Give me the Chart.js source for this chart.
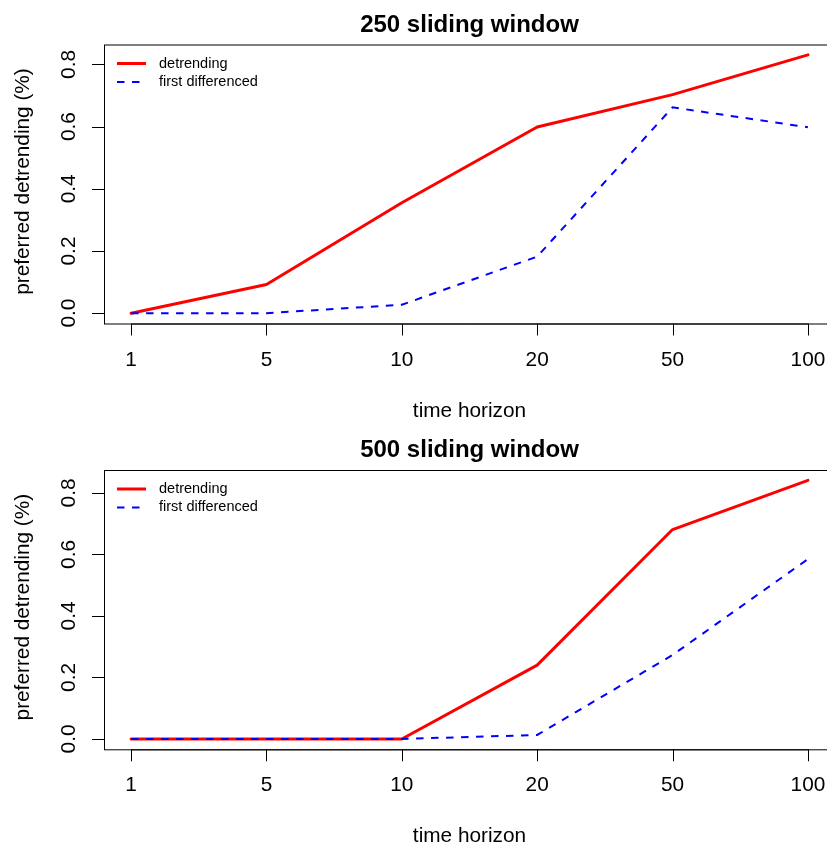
<!DOCTYPE html>
<html>
<head>
<meta charset="utf-8">
<script src="https://cdn.jsdelivr.net/npm/chart.js@4"></script>
<style>
  html, body { margin: 0; padding: 0; background: #fff; overflow: hidden; }
  #wrap { position: relative; width: 827px; height: 846px; overflow: hidden; }
  canvas { position: absolute; left: 0; }
</style>
</head>
<body>
<div id="wrap">
  <canvas id="top" width="860" height="423" style="top:0"></canvas>
  <canvas id="bottom" width="860" height="423" style="top:423px"></canvas>
</div>
<script>
// time horizons on the x axis (evenly spaced, as categories)
const horizons = ['1', '5', '10', '20', '50', '100'];
const yTicks = [0, 0.2, 0.4, 0.6, 0.8];

// 250 sliding window
const detrend250 = [0, 0.092, 0.355, 0.599, 0.703, 0.831];
const firstDiff250 = [0, 0, 0.027, 0.182, 0.662, 0.598];

// 500 sliding window
const detrend500 = [0, 0, 0, 0.240, 0.681, 0.841];
const firstDiff500 = [0, 0, 0, 0.013, 0.273, 0.585];

const FONT = "'Liberation Sans', Arial, Helvetica, sans-serif";

// draws the R-style box, axes, titles and legend
const rFrame = {
    id: 'rFrame',
    afterDatasetsDraw(chart, args, opts) {
        const ctx = chart.ctx;
        const area = chart.chartArea;
        const xs = chart.scales.x;
        const ys = chart.scales.y;
        ctx.save();
        ctx.strokeStyle = '#000';
        ctx.fillStyle = '#000';
        ctx.lineWidth = 1;

        // box
        ctx.strokeRect(area.left + 0.5, area.top + 0.5, area.right - area.left, area.bottom - area.top);

        // x axis
        const x0 = xs.getPixelForValue(1);
        const x1 = xs.getPixelForValue(horizons.length);
        ctx.beginPath();
        ctx.moveTo(x0, area.bottom + 0.5);
        ctx.lineTo(x1, area.bottom + 0.5);
        horizons.forEach((h, i) => {
            const px = Math.round(xs.getPixelForValue(i + 1)) + 0.5;
            ctx.moveTo(px, area.bottom);
            ctx.lineTo(px, area.bottom + 12);
        });
        ctx.stroke();
        ctx.font = '20.8px ' + FONT;
        ctx.textAlign = 'center';
        ctx.textBaseline = 'alphabetic';
        horizons.forEach((h, i) => {
            ctx.fillText(h, xs.getPixelForValue(i + 1), area.bottom + 42);
        });
        ctx.fillText('time horizon', (area.left + area.right) / 2, area.bottom + 93);

        // y axis
        ctx.beginPath();
        yTicks.forEach(v => {
            const py = Math.round(ys.getPixelForValue(v)) + 0.5;
            ctx.moveTo(area.left, py);
            ctx.lineTo(area.left - 12, py);
        });
        ctx.stroke();
        ctx.textBaseline = 'middle';
        yTicks.forEach(v => {
            ctx.save();
            ctx.translate(area.left - 35, ys.getPixelForValue(v));
            ctx.rotate(-Math.PI / 2);
            ctx.fillText(v.toFixed(1), 0, 0);
            ctx.restore();
        });
        ctx.save();
        ctx.translate(23, (area.top + area.bottom) / 2 - 2.5);
        ctx.rotate(-Math.PI / 2);
        ctx.fillText('preferred detrending (%)', 0, 0);
        ctx.restore();

        // title
        ctx.font = 'bold 24px ' + FONT;
        ctx.textBaseline = 'alphabetic';
        ctx.fillText(opts.title, (area.left + area.right) / 2, area.top - 13);

        // legend, top left inside the box
        ctx.font = '14.5px ' + FONT;
        ctx.textAlign = 'left';
        ctx.textBaseline = 'middle';
        const legendOrder = [...chart.data.datasets].sort((a, b) => b.order - a.order);
        legendOrder.forEach((ds, i) => {
            const ly = area.top + 19 + i * 18.4;
            ctx.save();
            ctx.strokeStyle = ds.borderColor;
            ctx.lineWidth = ds.borderWidth;
            ctx.setLineDash(ds.borderDash || []);
            ctx.beginPath();
            ctx.moveTo(area.left + 13, ly);
            ctx.lineTo(area.left + 42, ly);
            ctx.stroke();
            ctx.restore();
            ctx.fillText(ds.label, area.left + 55, ly);
        });
        ctx.restore();
    }
};

function makePanel(id, title, detrend, firstDiff, padTop, padBottom) {
    const all = detrend.concat(firstDiff);
    const lo = Math.min(...all), hi = Math.max(...all);
    const ext = (hi - lo) * 0.04;
    new Chart(document.getElementById(id), {
        type: 'line',
        data: {
            datasets: [{
                label: 'detrending',
                data: detrend.map((v, i) => ({ x: i + 1, y: v })),
                borderColor: '#ff0000',
                borderWidth: 3,
                borderCapStyle: 'round',
                borderJoinStyle: 'round',
                pointRadius: 0,
                tension: 0,
                order: 1
            }, {
                label: 'first differenced',
                data: firstDiff.map((v, i) => ({ x: i + 1, y: v })),
                borderColor: '#0000ff',
                borderWidth: 2,
                borderDash: [7.5, 7.5],
                pointRadius: 0,
                tension: 0,
                order: 0
            }]
        },
        options: {
            responsive: false,
            animation: false,
            devicePixelRatio: 1,
            layout: { padding: { left: 104, right: 25, top: padTop, bottom: padBottom } },
            scales: {
                x: { type: 'linear', display: false, min: 0.8, max: horizons.length + 0.2 },
                y: { type: 'linear', display: false, min: lo - ext, max: hi + ext }
            },
            plugins: {
                legend: { display: false },
                tooltip: { enabled: false },
                rFrame: { title: title }
            }
        },
        plugins: [rFrame]
    });
}

makePanel('top', '250 sliding window', detrend250, firstDiff250, 44.5, 99.5);
makePanel('bottom', '500 sliding window', detrend500, firstDiff500, 47, 96.7);
</script>
</body>
</html>
